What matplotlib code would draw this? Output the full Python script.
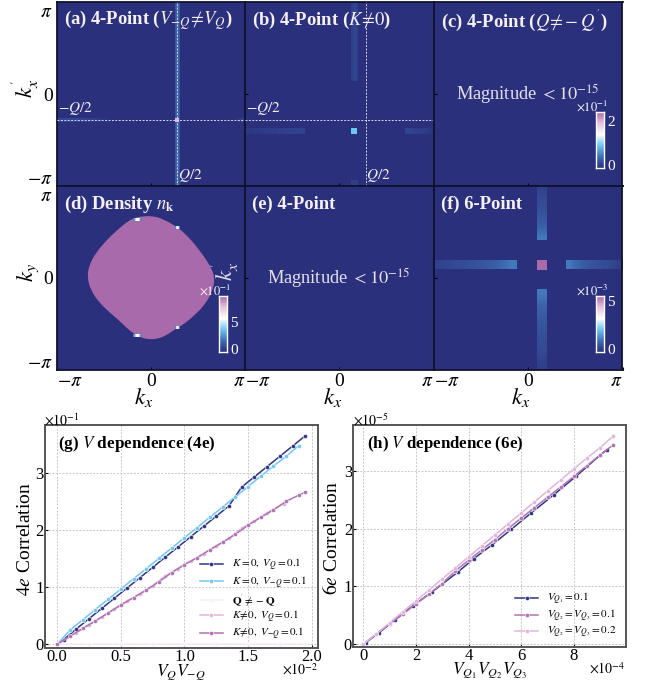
import numpy as np
import matplotlib
matplotlib.use('Agg')
import matplotlib.pyplot as plt
from matplotlib.colors import LinearSegmentedColormap
from matplotlib.patches import PathPatch
from matplotlib.path import Path

plt.rcParams['font.family'] = ['Liberation Serif', 'DejaVu Serif']
plt.rcParams['mathtext.fontset'] = 'stix'

# colours
navy = '#2b307d'
blue = '#6ec6f0'
mauve = '#a96aab'
pink = '#dcb0d8'
cmap = LinearSegmentedColormap.from_list('nk', [navy, '#3f70b5', blue, '#ffffff', '#e5c3df', mauve])

# line data for (g)
g_dark_x = [0, 0.05, 0.15, 0.25, 0.35, 0.45, 0.55, 0.65, 0.75, 0.85, 0.95, 1.05, 1.15, 1.25, 1.35, 1.45, 1.55, 1.65, 1.75, 1.85, 1.95]
g_dark_y = [0, 0.08, 0.27, 0.45, 0.63, 0.81, 0.99, 1.17, 1.35, 1.53, 1.71, 1.89, 2.07, 2.25, 2.43, 2.76, 2.94, 3.12, 3.30, 3.48, 3.66]
g_light_x = [0, 0.1, 0.2, 0.3, 0.4, 0.5, 0.6, 0.7, 0.8, 0.9, 1.0, 1.1, 1.2, 1.3, 1.4, 1.5, 1.6, 1.7, 1.8, 1.9]
g_light_y = [0, 0.25, 0.43, 0.61, 0.79, 0.97, 1.15, 1.33, 1.51, 1.69, 1.87, 2.05, 2.23, 2.41, 2.59, 2.77, 2.95, 3.13, 3.30, 3.49]
g_q_x = [0, 0.25, 0.5, 0.75, 1.0, 1.25, 1.5, 1.75, 1.95]
g_q_y = [0, 0, 0, 0, 0, 0, 0, 0, 0]
g_pink_x = [0, 0.15, 0.25, 0.35, 0.45, 0.55, 0.65, 0.75, 0.85, 0.95, 1.05, 1.15, 1.25, 1.35, 1.45, 1.55, 1.65, 1.78]
g_pink_y = [0, 0.2, 0.34, 0.48, 0.62, 0.76, 0.89, 1.03, 1.2, 1.33, 1.46, 1.59, 1.73, 1.86, 2.04, 2.16, 2.31, 2.47]
g_purple_x = [0, 0.1, 0.2, 0.3, 0.4, 0.5, 0.6, 0.7, 0.8, 0.9, 1.0, 1.1, 1.2, 1.3, 1.4, 1.5, 1.6, 1.7, 1.8, 1.9, 1.95]
g_purple_y = [0, 0.14, 0.28, 0.41, 0.55, 0.69, 0.82, 0.95, 1.10, 1.26, 1.40, 1.52, 1.66, 1.79, 1.93, 2.09, 2.23, 2.36, 2.51, 2.62, 2.67]

# line data for (h)
h_x = [0, 0.5, 1, 1.5, 2, 2.5, 3, 3.5, 4, 4.5, 5, 5.5, 6, 6.5, 7, 7.5, 8, 8.5, 9, 9.5]
h_pink_y = [0, 0.18, 0.37, 0.56, 0.75, 0.94, 1.13, 1.32, 1.51, 1.70, 1.89, 2.08, 2.27, 2.46, 2.65, 2.84, 3.03, 3.22, 3.40, 3.60]
h_purple_y = [0, 0.18, 0.35, 0.52, 0.70, 0.87, 1.05, 1.27, 1.45, 1.63, 1.81, 2.00, 2.18, 2.36, 2.54, 2.72, 2.90, 3.09, 3.27, 3.45]
h_dark_x = [0, 0.1, 0.6, 1.2, 1.9, 2.6, 3.6, 4.2, 4.9, 5.63, 6.38, 7.23, 8.1, 9.0, 9.25]
h_dark_y = [0, 0.03, 0.2, 0.42, 0.67, 0.9, 1.25, 1.48, 1.72, 1.99, 2.27, 2.58, 2.91, 3.27, 3.36]

# Fermi surface outline for (d), in units of pi
fs_kx = [-0.680, -0.655, -0.585, -0.480, -0.372, -0.265, -0.188, -0.082, 0.025, 0.131, 0.262, 0.352, 0.465, 0.572, 0.640,
         0.680, 0.652, 0.565, 0.458, 0.350, 0.258, 0.167, 0.060, -0.046, -0.134, -0.228, -0.336, -0.444, -0.552, -0.640]
fs_ky = [0.014, 0.146, 0.275, 0.402, 0.510, 0.602, 0.650, 0.672, 0.672, 0.640, 0.565, 0.493, 0.368, 0.224, 0.110,
         -0.004, -0.152, -0.300, -0.410, -0.502, -0.556, -0.622, -0.665, -0.665, -0.636, -0.572, -0.464, -0.372, -0.264, -0.136]

# stripe brightness along the bars
f_bar_in = [0.06, 0.08, 0.09, 0.11, 0.13, 0.16, 0.22]
f_bar_out = [0.22, 0.16, 0.13, 0.11, 0.09, 0.08, 0.05]
b_bar = [0.03, 0.04, 0.05, 0.06]
b_bar_rev = [0.07, 0.05, 0.04, 0.03]
a_bar = [0.08, 0.07, 0.04, 0.0]
glint = [0.25, 0.6, 0.6, 0.25]
glint_x = [-0.145, 0.277, 0.277, -0.145]
glint_y = [0.638, 0.547, -0.54, -0.63]
glint_w = [0.15, 0.08, 0.08, 0.15]

W, H = 654, 686
fig = plt.figure(figsize=(W / 100, H / 100), dpi=100, facecolor='white')


def axes_px(x0, y0, x1, y1):
    return fig.add_axes([x0 / W, 1 - y1 / H, (x1 - x0) / W, (y1 - y0) / H])


def bar(ax, vals, x0, x1, y0, y1, vertical=False, z=1):
    arr = np.array(vals)[:, None] if vertical else np.array(vals)[None, :]
    ax.imshow(arr, extent=[x0, x1, y0, y1], cmap=cmap, vmin=0, vmax=1, aspect='auto',
              interpolation='bilinear', origin='upper', zorder=z)


def colorbar(x0, y0, x1, y1, tick, ticky):
    cax = axes_px(x0, y0, x1, y1)
    cax.imshow(np.linspace(1, 0, 200)[:, None], cmap=cmap, aspect='auto', extent=[0, 1, 0, 1])
    cax.set_xticks([])
    cax.set_yticks([])
    for s in cax.spines.values():
        s.set_color('white')
        s.set_linewidth(1.0)
    fig.text((x1 + 3) / W, 1 - ticky / H, tick, color='white', fontsize=11, va='center')
    fig.text((x1 + 3) / W, 1 - (y1 - 1) / H, '0', color='white', fontsize=11, va='center')


def smooth_closed(xs, ys):
    # quadratic curves through the midpoints, the read points act as controls
    pts = np.column_stack([xs, ys])
    mids = (pts + np.roll(pts, -1, axis=0)) / 2
    verts = [mids[-1]]
    codes = [Path.MOVETO]
    for p, m in zip(pts, mids):
        verts += [p, m]
        codes += [Path.CURVE3, Path.CURVE3]
    return Path(verts, codes)


edges_x = [(57, 245), (245, 433.5), (433.5, 622.5)]
edges_y = [(2, 186), (186, 370)]
titles = [r'(a) 4-Point ($V_{-Q}\!\neq\! V_Q$)', r'(b) 4-Point ($K\!\neq\! 0$)', r"(c) 4-Point ($Q\!\neq\!-Q^{'}$)",
          r'(d) Density $n_{\mathbf{k}}$', '(e) 4-Point', '(f) 6-Point']
panels = {}
for r in range(2):
    for c in range(3):
        ax = axes_px(edges_x[c][0], edges_y[r][0], edges_x[c][1], edges_y[r][1])
        ax.set_facecolor(navy)
        ax.text(0.038, 0.9, titles[r * 3 + c], transform=ax.transAxes, color='#f4f0f6', fontsize=13.4,
                fontweight='bold', va='center', zorder=10)
        ax.set_xticks([-np.pi, 0, np.pi] if r == 1 else [0])
        ax.set_yticks([-2.85, 0, 2.85] if c == 0 else [0])
        ax.set_xticklabels([r'$-\pi$', '0', r'$\pi$'] if r == 1 else [''], fontsize=14)
        ax.set_yticklabels([r'$-\pi$', '0', r'$\pi$'] if c == 0 else [''], fontsize=14)
        ax.tick_params(direction='in', length=2, width=0.8, color='black', pad=2)
        if c == 0:
            ax.tick_params(axis='y', length=0, pad=3)
        for s in ax.spines.values():
            s.set_color('#10122e')
            s.set_linewidth(1.3)
        if r == 1:
            ax.set_xlabel(r'$k_x$', fontsize=16.5)
            ax.xaxis.set_label_coords(0.463, -0.085)
            labs = ax.get_xticklabels()
            labs[0].set_ha('left')
            labs[2].set_ha('right')
        panels[r * 3 + c] = ax

# (a)
ax = panels[0]
Q2 = 0.877
bar(ax, [0.12, 0.18, 0.18, 0.12], Q2 - 0.07, Q2 + 0.07, -np.pi, np.pi)
bar(ax, a_bar, -np.pi, -1.0, -Q2 - 0.09, -Q2 + 0.02)
bar(ax, [0.0, 0.06], 2.7, np.pi, -Q2 - 0.09, -Q2 + 0.02)
ax.scatter([Q2], [-Q2], s=8, marker='s', color=pink, linewidths=0, zorder=4)

# (b)
ax = panels[1]
bar(ax, [0.05, 0.07, 0.07, 0.05], 0.4, 0.62, 0.44, np.pi)
bar(ax, b_bar, -np.pi, -1.17, -1.36, -1.17)
bar(ax, b_bar_rev, 2.2, np.pi, -1.36, -1.17)
bar(ax, [0.05, 0.05], 0.4, 0.62, -np.pi, -2.95)
ax.scatter([0.5], [-1.25], s=20, marker='s', color=blue, linewidths=0, zorder=4)

for ax in (panels[0], panels[1]):
    ax.axvline(Q2, color='#d8d4e8', lw=0.7, ls=(0, (2, 1.5)), zorder=5)
    ax.axhline(-Q2, color='#d8d4e8', lw=0.7, ls=(0, (2, 1.5)), zorder=5)
    ax.text(Q2 + 0.03, -2.78, r'$Q/2$', color='#f0edf5', fontsize=11, va='center', zorder=6)
    ax.text(-np.pi + 0.03, -0.5, r'$-Q/2$', color='#f0edf5', fontsize=11, va='center', zorder=6)

# (c) and (e)
panels[2].text(0.5, 0.5, r'Magnitude $<10^{-15}$', transform=panels[2].transAxes, color='#e4e0ee',
               fontsize=13.2, ha='center', va='center')
panels[4].text(0.5, 0.5, r'Magnitude $<10^{-15}$', transform=panels[4].transAxes, color='#e4e0ee',
               fontsize=13.2, ha='center', va='center')

# (d)
ax = panels[3]
ax.add_patch(PathPatch(smooth_closed(np.array(fs_kx) * np.pi, np.array(fs_ky) * np.pi), facecolor=mauve, lw=0, zorder=3))
for gx, gy, gw in zip(glint_x, glint_y, glint_w):
    bar(ax, glint, gx * np.pi - gw, gx * np.pi + gw, gy * np.pi - 0.05, gy * np.pi + 0.05, z=4)
ax.text(0.895, 0.535, r"$k_x^{'}$", transform=ax.transAxes, color='#e4e0ee', fontsize=16.5, rotation=90,
        ha='center', va='center', zorder=6)

# (f)
ax = panels[5]
bar(ax, f_bar_in, -np.pi, -0.4, 0.3, 0.6)
bar(ax, f_bar_out, 1.27, np.pi, 0.3, 0.6)
bar(ax, f_bar_in, 0.3, 0.6, 1.3, np.pi, vertical=True)
bar(ax, f_bar_out, 0.3, 0.6, -np.pi, -0.39, vertical=True)
ax.scatter([0.45], [0.45], s=42, marker='s', color=mauve, linewidths=0, zorder=4)

for ax in panels.values():
    ax.set_xlim(-np.pi, np.pi)
    ax.set_ylim(-np.pi, np.pi)

panels[0].set_ylabel(r"$k_x^{'}$", fontsize=16.5)
panels[0].yaxis.set_label_coords(-0.085, 0.53)
panels[3].set_ylabel(r'$k_y$', fontsize=16.5)
panels[3].yaxis.set_label_coords(-0.085, 0.53)

colorbar(596, 112, 604, 168, '2', 123)
colorbar(219, 296, 227, 352, '5', 324)
colorbar(596, 296, 604, 352, '5', 303)
fig.text(576 / W, 1 - 106 / H, r'$\times10^{-1}$', color='white', fontsize=9, va='center')
fig.text(199 / W, 1 - 290 / H, r'$\times10^{-1}$', color='white', fontsize=9, va='center')
fig.text(576 / W, 1 - 290 / H, r'$\times10^{-3}$', color='white', fontsize=9, va='center')


def style_lower(ax):
    ax.grid(True, color='#c8c8c8', lw=0.7, ls=(0, (2, 1.5)))
    ax.set_axisbelow(True)
    ax.tick_params(direction='in', length=2, width=0.8, labelsize=12, pad=0.5)
    for s in ax.spines.values():
        s.set_color('#555555')
        s.set_linewidth(1.4)


# (g)
ax = axes_px(44.5, 425, 318, 648)
style_lower(ax)
kw = dict(lw=1.1, marker='o', ms=3, mec='white', mew=0.4)
ax.plot(g_dark_x, g_dark_y, color='#2f3585', label=r'$K=0,\ V_Q=0.1$', **kw)
ax.plot(g_light_x, g_light_y, color='#71c7f3', label=r'$K=0,\ V_{-Q}=0.1$', **kw)
ax.plot(g_q_x, g_q_y, color='#f5eef5', label=r"$\mathbf{Q}^{'}\neq-\mathbf{Q}$", **kw)
ax.plot(g_pink_x, g_pink_y, color='#e0b4dc', label=r'$K\!\neq\!0,\ V_Q=0.1$', **kw)
ax.plot(g_purple_x, g_purple_y, color='#b072b4', label=r'$K\!\neq\!0,\ V_{-Q}=0.1$', **kw)
ax.set_xlim(-0.1, 2.05)
ax.set_ylim(-0.065, 3.85)
ax.set_xticks([0, 0.5, 1.0, 1.5, 2.0])
ax.set_yticks([0, 1, 2, 3])
ax.set_xlabel(r'$V_QV_{-Q}$', fontsize=12.5, labelpad=-2)
ax.set_ylabel(r'$4e$ Correlation', fontsize=14)
ax.yaxis.set_label_coords(-0.038, 0.49)
ax.text(0.048, 0.915, r'(g) $V$ dependence (4e)', transform=ax.transAxes, fontsize=12.3, fontweight='bold', va='center')
ax.text(0.0, 0.985, r'$\times10^{-1}$', transform=ax.transAxes, fontsize=10, va='bottom')
ax.text(1.0, -0.063, r'$\times10^{-2}$', transform=ax.transAxes, fontsize=10, va='top', ha='right')
ax.legend(loc='lower right', frameon=False, fontsize=8, handlelength=2.1, labelspacing=0.1,
          bbox_to_anchor=(0.967, 0.017), borderpad=0.2, borderaxespad=0, handletextpad=0.8)

# (h)
ax = axes_px(352.7, 425, 625.7, 647)
style_lower(ax)
ax.plot(h_dark_x, h_dark_y, color='#2f3585', label=r'$V_{Q_1}=0.1$', **kw)
ax.plot(h_x, h_purple_y, color='#b072b4', label=r'$V_{Q_2}=V_{Q_3}=0.1$', **kw)
ax.plot(h_x, h_pink_y, color='#e0b4dc', label=r'$V_{Q_2}=V_{Q_3}=0.2$', **kw)
ax.set_xlim(-0.4, 9.97)
ax.set_ylim(-0.047, 3.79)
ax.set_xticks([0, 2, 4, 6, 8])
ax.set_yticks([0, 1, 2, 3])
ax.set_xlabel(r'$V_{Q_1}V_{Q_2}V_{Q_3}$', fontsize=12.5, labelpad=-2.5)
ax.set_ylabel(r'$6e$ Correlation', fontsize=14)
ax.yaxis.set_label_coords(-0.043, 0.49)
ax.text(0.052, 0.915, r'(h) $V$ dependence (6e)', transform=ax.transAxes, fontsize=12.2, fontweight='bold', va='center')
ax.text(0.0, 0.985, r'$\times10^{-5}$', transform=ax.transAxes, fontsize=10, va='bottom')
ax.text(1.0, -0.063, r'$\times10^{-4}$', transform=ax.transAxes, fontsize=10, va='top', ha='right')
ax.legend(loc='lower right', frameon=False, fontsize=8, handlelength=2.1, labelspacing=0.1,
          bbox_to_anchor=(0.975, 0.02), borderpad=0.2, borderaxespad=0, handletextpad=0.8)

fig.savefig('out.png', dpi=100)
